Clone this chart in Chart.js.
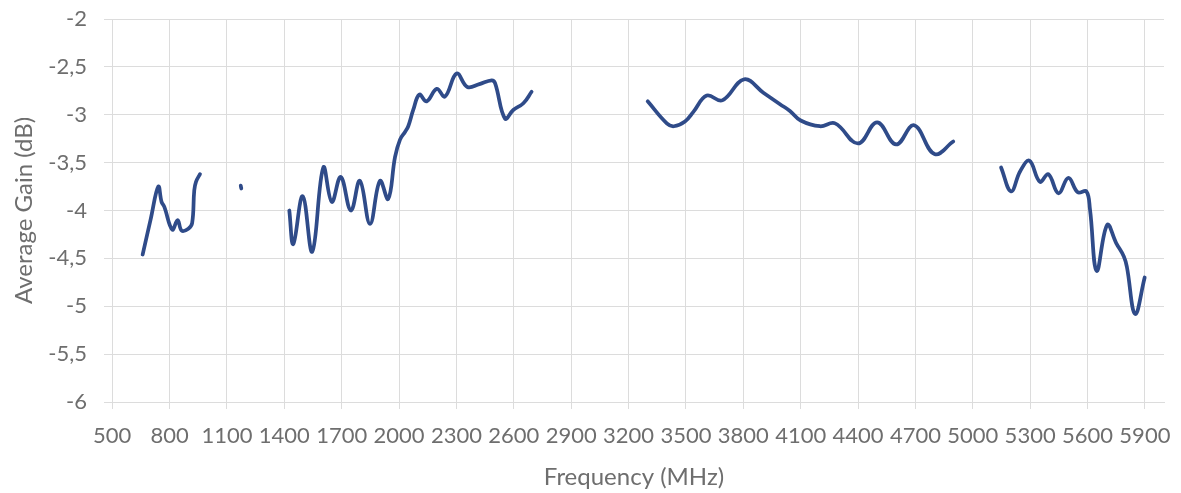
<!DOCTYPE html>
<html lang="en">
<head>
  <meta charset="UTF-8" />
  <title>Average Gain vs Frequency</title>
  <script src="https://cdn.jsdelivr.net/npm/chart.js"></script>
  <style>
    body { margin: 0; background: #fff; }
    canvas { display: block; }
  </style>
</head>
<body>
  <canvas id="gainChart" width="1181" height="493"></canvas>

<script>
const freqMHz = [
  659, 700, 741, 758, 772, 814, 842, 863, 898, 918, 929, 938, 959, 1060,
  1172, 1175, 1300,
  1426, 1447, 1496, 1546, 1604, 1648, 1695, 1748, 1795, 1848, 1900, 1943, 1979,
  2005, 2031, 2048, 2074, 2106, 2144, 2197, 2240, 2301, 2357, 2420, 2484, 2502,
  2554, 2597, 2650, 2693, 3000,
  3300, 3400, 3437, 3495, 3539, 3609, 3690, 3804, 3905, 3992, 4044, 4100, 4201,
  4280, 4400, 4500, 4599, 4693, 4800, 4898, 5020,
  5148, 5200, 5248, 5296, 5351, 5395, 5448, 5500, 5549, 5594, 5613, 5648, 5703,
  5750, 5790, 5806, 5849, 5899
];
const gainDb = [
  -4.46, -4.10, -3.75, -3.91, -3.96, -4.20, -4.10, -4.21, -4.19, -4.13, -3.79, -3.70, -3.62, null,
  -3.74, -3.77, null,
  -4.00, -4.35, -3.85, -4.43, -3.55, -3.91, -3.65, -4.00, -3.69, -4.14, -3.69, -3.88, -3.44,
  -3.26, -3.18, -3.12, -2.95, -2.79, -2.86, -2.73, -2.81, -2.57, -2.71, -2.68, -2.64, -2.67,
  -3.04, -2.95, -2.88, -2.76, null,
  -2.86, -3.09, -3.12, -3.07, -2.97, -2.80, -2.85, -2.63, -2.77, -2.89, -2.96, -3.06, -3.12,
  -3.09, -3.30, -3.08, -3.31, -3.11, -3.41, -3.28, null,
  -3.55, -3.80, -3.59, -3.48, -3.70, -3.62, -3.82, -3.66, -3.81, -3.80, -3.99, -4.63, -4.15,
  -4.34, -4.48, -4.59, -5.08, -4.70
];
const xTicks = [500, 800, 1100, 1400, 1700, 2000, 2300, 2600, 2900, 3200,
                3500, 3800, 4100, 4400, 4700, 5000, 5300, 5600, 5900];
const yMin = -6, yMax = -2, yStep = 0.5;

const textGrey = '#6e6e6e';
const gridGrey = '#dcdcdc';

new Chart(document.getElementById('gainChart'), {
  type: 'line',
  data: {
    datasets: [{
      label: 'Average Gain',
      data: freqMHz.map((f, i) => ({ x: f, y: gainDb[i] })),
      borderColor: '#2f4b89',
      borderWidth: 3.75,
      borderCapStyle: 'round',
      borderJoinStyle: 'round',
      pointRadius: 0,
      tension: 0.4,
      spanGaps: false,
      fill: false
    }]
  },
  options: {
    responsive: false,
    animation: false,
    layout: { padding: { top: 19, right: 17, bottom: 0, left: 0 } },
    plugins: { legend: { display: false }, tooltip: { enabled: false } },
    scales: {
      x: {
        type: 'linear',
        min: 457, max: 6000,
        afterBuildTicks: s => { s.ticks = xTicks.map(v => ({ value: v })); },
        // fixed height; ignore label overhang so the plot spans 104..1164
        afterFit: s => { s.height = 91; s.paddingLeft = 0; s.paddingRight = 0; },
        grid: { color: gridGrey, lineWidth: 1, drawTicks: true, tickLength: 7, tickColor: gridGrey },
        border: { display: true, color: gridGrey },
        ticks: {
          autoSkip: false, maxRotation: 0, padding: 14,
          color: textGrey, font: { family: 'Lato', size: 22 },
          callback: v => String(v)
        },
        title: {
          display: true, text: 'Frequency (MHz)', color: textGrey,
          font: { family: 'Lato', size: 24 }, padding: { top: 0, bottom: 1 }
        }
      },
      y: {
        min: yMin, max: yMax,
        // fixed width; drop the label overhang so the plot top sits at the layout padding
        afterFit: s => { s.width = 104; s.paddingTop = 0; s.paddingBottom = 0; },
        grid: { color: gridGrey, lineWidth: 1, drawTicks: false },
        border: { display: false },
        ticks: {
          stepSize: yStep, padding: 17,
          color: textGrey, font: { family: 'Lato', size: 22 },
          callback: v => String(v).replace('.', ',')
        },
        title: {
          display: true, text: 'Average Gain (dB)', color: textGrey,
          font: { family: 'Lato', size: 24 }, padding: { top: 10, bottom: 0 }
        }
      }
    }
  }
});
</script>
</body>
</html>
